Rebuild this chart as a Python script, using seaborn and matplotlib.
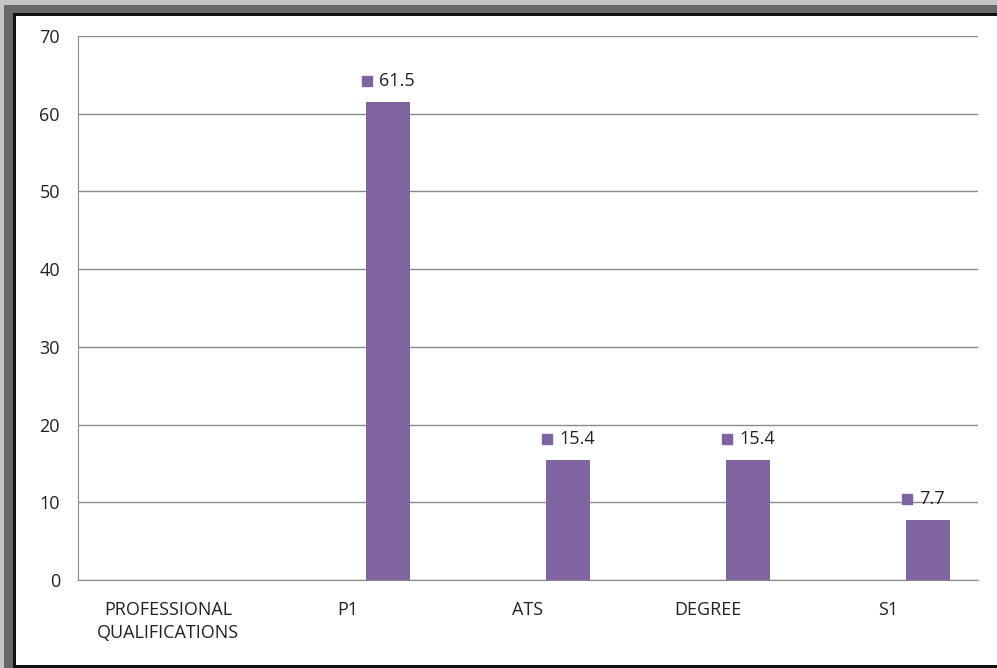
import numpy as np
import pandas as pd
import seaborn as sns
import matplotlib.pyplot as plt
from matplotlib.patches import Rectangle
from matplotlib.transforms import offset_copy

categories = ['PROFESSIONAL\nQUALIFICATIONS', 'P1', 'ATS', 'DEGREE', 'S1']
values = [np.nan, 61.5, 15.4, 15.4, 7.7]
bar_color = '#8064A2'

sns.set_style('white')
plt.rcParams['font.family'] = ['Open Sans', 'DejaVu Sans']

fig = plt.figure(figsize=(9.97, 6.68), dpi=100)
ax = fig.add_axes([0.0782, 0.1317, 0.9027, 0.8143])

# bars sit right of the category centre, like in the original spreadsheet chart
idx = np.arange(len(categories))
df = pd.DataFrame({'pos': idx + 0.222, 'val': values})
sns.barplot(data=df, x='pos', y='val', native_scale=True, width=0.244,
            color=bar_color, saturation=1, edgecolor='none', ax=ax)

ax.set_xlim(-0.5, len(categories) - 0.5)
ax.set_ylim(0, 70)
ax.set_yticks(range(0, 71, 10))
ax.yaxis.grid(True, color='#8a8a8a', linewidth=1)
ax.set_axisbelow(True)
ax.set_xticks(idx)
ax.set_xticklabels(categories, fontsize=13, color='#222222', linespacing=1.4)
ax.tick_params(axis='y', labelsize=13, labelcolor='#222222', length=0, pad=13)
ax.tick_params(axis='x', length=0, pad=15)
ax.set_xlabel('')
ax.set_ylabel('')
for s in ['top', 'right']:
    ax.spines[s].set_visible(False)
ax.spines['left'].set_color('#8a8a8a')
ax.spines['bottom'].set_color('#8a8a8a')

# data labels with a small legend key square
for p, v in zip(df['pos'], df['val']):
    if np.isnan(v):
        continue
    mk_tr = offset_copy(ax.transData, fig=fig, x=-21, y=21, units='dots')
    ax.plot([p], [v], marker='s', markersize=6.5, color=bar_color, transform=mk_tr, clip_on=False)
    tx_tr = offset_copy(ax.transData, fig=fig, x=-9, y=21, units='dots')
    ax.text(p, v, f'{v:.1f}', transform=tx_tr, fontsize=13, color='#222222',
            ha='left', va='center')

# picture frame around the chart
W, H = 997, 668
def band(x0, y0, w, h, c):
    fig.patches.append(Rectangle((x0 / W, 1 - (y0 + h) / H), w / W, h / H,
                                 transform=fig.transFigure, facecolor=c,
                                 linewidth=0, zorder=10))
band(0, 0, W, 5, '#c4c4c4')
band(0, 0, 4, H, '#c4c4c4')
band(4, 5, W, 8, '#676767')
band(4, 5, 9, H, '#676767')
band(13, 13, W, 3, '#111111')
band(13, 13, 3, H, '#111111')
band(13, H - 3, W, 3, '#111111')

fig.savefig('out.png', dpi=100)
